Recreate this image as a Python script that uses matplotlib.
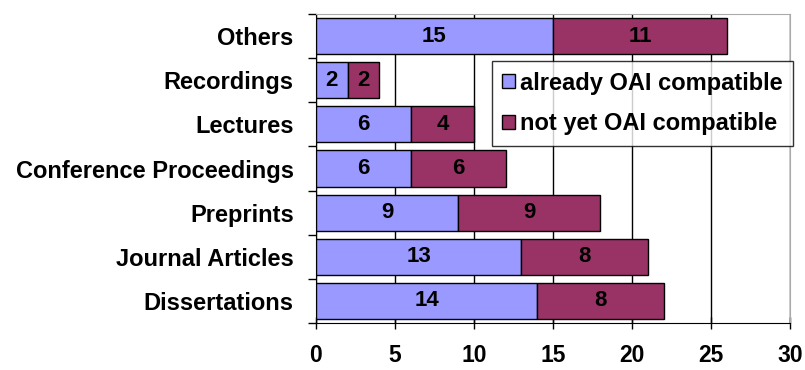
import matplotlib.pyplot as plt

categories = ['Dissertations', 'Journal Articles', 'Preprints', 'Conference Proceedings',
              'Lectures', 'Recordings', 'Others']
already = [14, 13, 9, 6, 6, 2, 15]
not_yet = [8, 8, 9, 6, 4, 2, 11]
xticks = [0, 5, 10, 15, 20, 25, 30]

plt.rcParams['font.family'] = ['Liberation Sans', 'DejaVu Sans']
plt.rcParams['font.weight'] = 'bold'

fig = plt.figure(figsize=(8.05, 3.7), dpi=100)
ax = fig.add_axes([0.3925, 0.127, 0.5889, 0.835])

y = range(len(categories))
b1 = ax.barh(y, already, height=0.82, color='#9999FF', edgecolor='black', linewidth=1,
             label='already OAI compatible', zorder=3)
b2 = ax.barh(y, not_yet, left=already, height=0.82, color='#993366', edgecolor='black',
             linewidth=1, label='not yet OAI compatible', zorder=3)

# value labels in the middle of each segment
for vals, lefts in [(already, [0] * len(already)), (not_yet, already)]:
    for i, v in enumerate(vals):
        ax.text(lefts[i] + v / 2, i, str(v), ha='center', va='center',
                fontsize=16, fontweight='bold', zorder=4)

ax.set_xlim(0, 30)
ax.set_ylim(-0.5, len(categories) - 0.5)
ax.set_xticks(xticks)
ax.set_xticklabels([str(t) for t in xticks], fontsize=16.5, fontweight='bold')
ax.tick_params(axis='x', direction='inout', length=8, width=1, pad=11)
ax.xaxis.grid(True, color='black', linewidth=1, zorder=0)

ax.set_yticks(list(y))
ax.set_yticklabels(categories, fontsize=17, fontweight='bold')
ax.tick_params(axis='y', length=0, pad=16)
ax.set_yticks([i - 0.5 for i in range(len(categories) + 1)], minor=True)
ax.tick_params(axis='y', which='minor', length=6, width=1, direction='out')

ax.spines['top'].set_color('#aaaaaa')
ax.spines['right'].set_color('#aaaaaa')
ax.spines['left'].set_color('black')
ax.spines['bottom'].set_color('black')

leg = ax.legend(loc='upper left', bbox_to_anchor=(0.371, 0.848), fontsize=17,
                frameon=True, fancybox=False, edgecolor='black', handlelength=0.55,
                handleheight=0.55, handletextpad=0.2, borderpad=0.45, labelspacing=0.75,
                borderaxespad=0)
leg.get_frame().set_linewidth(1)

fig.savefig('out.png', dpi=100)
